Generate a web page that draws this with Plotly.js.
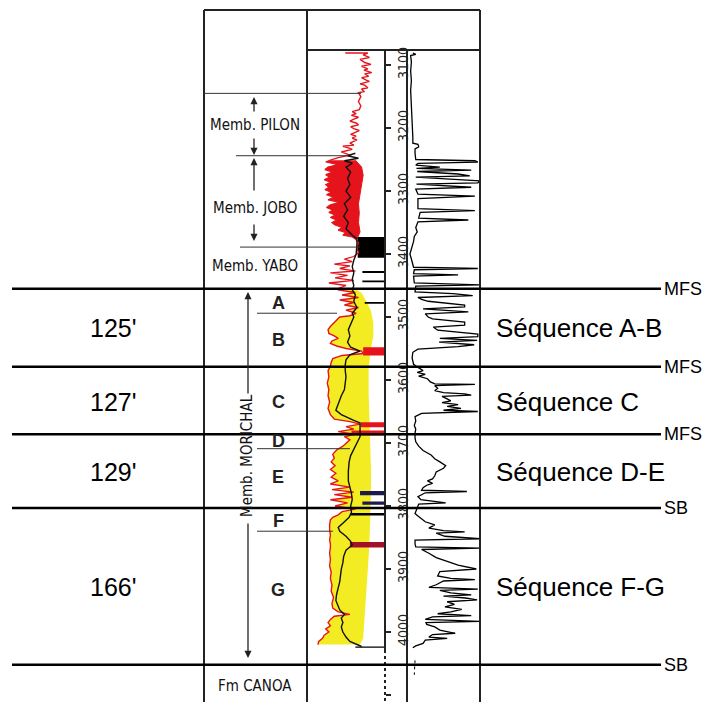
<!DOCTYPE html>
<html>
<head>
<meta charset="utf-8">
<script src="https://cdn.plot.ly/plotly-3.0.1.min.js"></script>
<style>html,body{margin:0;padding:0;background:#fff;}#chart{width:711px;height:702px;}</style>
</head>
<body>
<div id="chart"></div>
<script>
// ---------------- DATA ----------------
const depthTicks = [3100,3200,3300,3400,3500,3600,3700,3800,3900,4000,4100];
const depthTickLabels = ['3100','3200','3300','3400','3500','3600','3700','3800','3900','4000','41 00'];

// Resistivity-type curve, upper part (Memb. PILON) [depth, value]
const pilonCurve = [[3081,49],[3081,78],[3084,72],[3088,80],[3091,68],[3096,74],[3099,82],[3102,70],[3106,78],[3108,73],[3112,83],[3114,74],[3118,79],[3120,70],[3124,76],[3126,80],[3130,68],[3132,74],[3136,78],[3138,70],[3142,73],[3144,66],[3150,69],[3158,66],[3165,69],[3171,67],[3174,58],[3177,63],[3180,57],[3183,66],[3186,60],[3189,55],[3192,63],[3195,66],[3198,56],[3201,60],[3204,67],[3207,62],[3210,56],[3213,63],[3216,58],[3219,64],[3224,55],[3227,60],[3229,46],[3232,54],[3234,58],[3238,44],[3241,50],[3243,55],[3247,40],[3251,30]];

// Memb. JOBO red-shaded interval: left and right bounding curves
const joboLeft = [[3251,30],[3254,24],[3258,40],[3262,27],[3266,23],[3270,33],[3274,24],[3278,29],[3282,22],[3286,30],[3290,24],[3294,28],[3298,23],[3302,31],[3306,25],[3310,34],[3314,27],[3318,42],[3322,30],[3326,25],[3330,33],[3334,28],[3338,36],[3342,30],[3346,38],[3350,32],[3354,36],[3358,45],[3362,40],[3366,50],[3370,46],[3373,58],[3376,62]];
const joboRight = [[3251,62],[3262,70],[3275,72],[3290,70],[3305,68],[3320,66],[3335,67],[3350,66],[3365,68],[3376,64]];

// Memb. YABO
const yaboCurve = [[3376,62],[3382,66],[3390,64],[3398,66],[3404,60],[3408,48],[3412,58],[3416,35],[3419,55],[3423,42],[3427,62],[3430,30],[3434,52],[3438,36],[3442,60],[3446,28],[3450,50],[3455,40]];

// Memb. MORICHAL: red curve bounding the yellow sand shading, and the shading edge
const sandCurve = [[3455,40],[3457,40],[3461,62],[3465,45],[3469,66],[3473,42],[3477,60],[3481,48],[3485,66],[3489,50],[3494,63],[3498,55],[3500,42],[3505,38],[3510,33],[3515,30],[3520,27],[3526,28],[3530,35],[3534,40],[3538,32],[3542,30],[3546,38],[3550,50],[3554,70],[3558,72],[3561,45],[3566,33],[3572,31],[3578,30],[3585,27],[3595,28],[3605,26],[3615,28],[3625,27],[3635,29],[3645,27],[3655,30],[3662,35],[3666,55],[3670,68],[3674,50],[3678,60],[3682,40],[3686,62],[3690,48],[3695,55],[3700,50],[3705,46],[3711,38],[3718,33],[3724,35],[3730,31],[3736,36],[3742,30],[3748,37],[3754,31],[3760,40],[3765,30],[3770,55],[3774,32],[3778,60],[3782,35],[3786,58],[3790,30],[3795,52],[3800,36],[3805,62],[3809,45],[3814,40],[3818,33],[3822,30],[3830,29],[3838,29],[3846,30],[3854,29],[3860,30],[3866,30],[3875,29],[3885,30],[3895,29],[3905,31],[3915,30],[3925,32],[3935,31],[3945,34],[3955,32],[3962,33],[3968,40],[3972,55],[3975,35],[3980,30],[3985,27],[3990,30],[3995,24],[4000,28],[4005,22],[4010,20],[4015,15],[4020,14]];
const sandEdge = [[3455,62],[3462,70],[3475,76],[3490,82],[3510,85],[3530,85],[3550,82],[3580,79],[3620,79],[3660,80],[3700,81],[3740,82],[3780,82],[3820,81],[3860,80],[3900,78],[3940,76],[3980,74],[4010,72],[4020,68]];

// Black curve in the first track
const blackCurve = [[3240,62],[3244,52],[3248,66],[3252,48],[3256,58],[3262,50],[3270,56],[3280,52],[3290,55],[3300,50],[3310,56],[3320,48],[3330,52],[3340,47],[3350,53],[3360,50],[3370,58],[3376,64],[3385,64],[3400,63],[3410,60],[3420,58],[3430,60],[3440,58],[3450,60],[3457,58],[3465,62],[3475,60],[3485,64],[3494,58],[3500,60],[3510,56],[3520,53],[3530,55],[3540,52],[3548,56],[3554,68],[3560,55],[3568,50],[3576,49],[3585,49],[3595,50],[3605,49],[3615,48],[3625,44],[3632,42],[3640,40],[3648,37],[3655,44],[3660,52],[3664,60],[3668,68],[3680,68],[3690,68],[3700,64],[3711,59],[3720,56],[3730,54],[3745,53],[3760,53],[3770,55],[3780,57],[3790,58],[3800,56],[3810,57],[3818,54],[3826,47],[3834,40],[3840,42],[3848,50],[3856,56],[3862,58],[3870,50],[3880,47],[3890,46],[3900,44],[3910,43],[3920,42],[3930,40],[3940,38],[3950,37],[3958,40],[3965,42],[3972,48],[3978,44],[3985,46],[3992,44],[4000,46],[4008,50],[4015,55],[4020,64],[4023,70]];

// Beds drawn to the depth track: [top depth, base depth, start value]
const blackBeds = [[3373,3406,65],[3427,3430,71],[3442,3445,71],[3476,3479,74],[3811,3815,56],[4023,4025,62]];
const redBeds = [[3548,3561,72],[3667,3675,69],[3680,3688,57]];
const navyBeds = [[3776,3783,68],[3793,3798,71]];
const maroonBeds = [[3857,3866,55]];

// Right-hand log (gamma-ray type) [depth, value]
const grCurve = [[3081,8],[3083,12],[3085,5],[3095,6],[3110,5],[3125,6],[3140,5],[3160,6],[3180,7],[3200,7],[3215,8],[3224,8],[3226,15],[3230,16],[3233,11],[3240,11],[3250,12],[3252,93],[3254,97],[3256,15],[3259,12],[3262,45],[3264,13],[3267,88],[3269,14],[3273,70],[3276,86],[3278,12],[3284,100],[3287,97],[3289,13],[3294,88],[3297,12],[3305,15],[3308,93],[3312,15],[3322,15],[3328,15],[3331,93],[3334,18],[3343,16],[3346,84],[3349,15],[3358,12],[3365,14],[3372,10],[3380,9],[3390,6],[3400,4],[3408,6],[3416,8],[3421,9],[3423,97],[3425,10],[3431,9],[3433,70],[3435,9],[3446,10],[3449,100],[3451,12],[3460,11],[3463,63],[3466,90],[3469,15],[3472,20],[3475,29],[3481,79],[3484,79],[3487,22],[3492,84],[3495,25],[3500,29],[3503,35],[3508,79],[3513,79],[3516,36],[3521,42],[3527,97],[3531,97],[3534,45],[3537,96],[3540,44],[3544,92],[3547,70],[3551,15],[3556,8],[3565,7],[3575,9],[3580,15],[3585,22],[3588,14],[3591,25],[3594,16],[3598,28],[3603,32],[3606,38],[3607,93],[3609,38],[3613,42],[3617,38],[3620,50],[3622,79],[3624,88],[3626,48],[3630,55],[3633,60],[3636,48],[3639,70],[3642,55],[3645,74],[3648,50],[3650,97],[3653,20],[3658,11],[3665,12],[3672,10],[3678,12],[3684,11],[3692,11],[3698,12],[3705,16],[3712,22],[3719,33],[3725,38],[3730,45],[3736,53],[3740,50],[3746,40],[3752,38],[3757,35],[3760,28],[3764,35],[3767,27],[3771,22],[3775,20],[3777,82],[3779,25],[3785,15],[3790,19],[3795,53],[3797,16],[3805,13],[3812,11],[3816,15],[3820,20],[3825,25],[3830,38],[3835,30],[3839,50],[3841,79],[3843,40],[3848,52],[3852,100],[3854,11],[3860,11],[3865,12],[3867,100],[3869,20],[3875,30],[3882,40],[3888,55],[3894,70],[3900,95],[3904,45],[3911,42],[3915,60],[3917,93],[3919,50],[3925,40],[3929,30],[3932,97],[3934,45],[3938,60],[3941,88],[3943,50],[3946,80],[3949,96],[3952,55],[3956,65],[3960,52],[3964,75],[3968,60],[3971,42],[3974,88],[3976,35],[3980,25],[3983,100],[3985,26],[3988,27],[3992,38],[3997,45],[4002,66],[4004,35],[4008,30],[4010,55],[4013,25],[4018,22],[4022,12],[4025,8]];
const grTail = [[4045,11],[4068,10]];

// Formation tops (left column) and sequence surfaces
const formationTops = [3145,3244,3389,3494,3709,3840];
const surfaceDepths = [3455,3579,3686,3803,4052];
const surfaceLabels = ['MFS','MFS','MFS','SB','SB'];
const thicknessLabels = ["125'","127'","129'","166'"];
const sequenceNames = ['Séquence A-B','Séquence C','Séquence D-E','Séquence F-G'];
const sequenceLabelDepths = [3517,3635,3746,3928];
const members = ['Memb. PILON','Memb. JOBO','Memb. YABO','Memb. MORICHAL','Fm CANOA'];
const units = ['A','B','C','D','E','F','G'];

// ---------------- DRAWING ----------------
const W = 711, H = 702;
const PX = x => x / W;
const PY = y => 1 - y / H;
const ARIAL = 'Liberation Sans, Arial, sans-serif';
const NARROW = 'Liberation Sans Narrow, Arial Narrow, DejaVu Sans Condensed, sans-serif';
const RED = '#e5141c', YELLOW = '#f4ec22';

const dx = a => a.map(p => p[1]);
const dy = a => a.map(p => p[0]);

function line(curve, color, width, extra) {
  return Object.assign({type:'scatter', mode:'lines', x:dx(curve), y:dy(curve), xaxis:'x', yaxis:'y',
    line:{color:color, width:width}, hoverinfo:'skip', showlegend:false}, extra || {});
}
function beds(list, color) {
  const x = [], y = [];
  list.forEach(b => { x.push(b[2],100,100,b[2],b[2],null); y.push(b[0],b[0],b[1],b[1],b[0],null); });
  return {type:'scatter', mode:'lines', x:x, y:y, xaxis:'x', yaxis:'y', fill:'toself', fillcolor:color,
    line:{width:0, color:color}, hoverinfo:'skip', showlegend:false};
}

const traces = [
  line(joboRight, RED, 1),
  line(joboLeft, RED, 1.2, {fill:'tonextx', fillcolor:RED}),
  line(sandEdge, 'rgba(0,0,0,0)', 0),
  line(sandCurve, RED, 1.4, {fill:'tonextx', fillcolor:YELLOW}),
  beds(blackBeds, '#000'),
  beds(redBeds, RED),
  beds(navyBeds, '#1b1b4d'),
  beds(maroonBeds, '#a3102a'),
  line(pilonCurve, RED, 1.4),
  line(yaboCurve, RED, 1.3),
  line(blackCurve, '#111', 1.4),
  {type:'scatter', mode:'lines', x:dx(grCurve), y:dy(grCurve), xaxis:'x2', yaxis:'y',
    line:{color:'#000', width:1.3}, hoverinfo:'skip', showlegend:false},
  {type:'scatter', mode:'lines', x:dx(grTail), y:dy(grTail), xaxis:'x2', yaxis:'y',
    line:{color:'#000', width:1, dash:'dot'}, hoverinfo:'skip', showlegend:false}
];

const shapes = [];
function pline(x0,y0,x1,y1,w,dash){ shapes.push({type:'line', xref:'paper', yref:'paper', x0:PX(x0), y0:PY(y0), x1:PX(x1), y1:PY(y1), line:{color:'#222', width:w, dash:dash||'solid'}}); }
pline(204,10,480,10,2);
pline(204,10,204,702,2);
pline(307,10,307,702,2);
pline(480,10,480,702,2);
pline(307,50,480,50,2);
pline(385,50,385,650,2);
pline(385,650,385,702,2,'dot');
pline(407,50,407,702,2);

const topX = [[204,361],[236,348],[240,360],[257,337],[257,350],[257,333]];
formationTops.forEach((d,i) => shapes.push({type:'line', xref:'paper', yref:'y', x0:PX(topX[i][0]), x1:PX(topX[i][1]), y0:d, y1:d, line:{color:'#333', width:1}}));
surfaceDepths.forEach(d => shapes.push({type:'line', xref:'paper', yref:'y', x0:PX(12), x1:PX(661), y0:d, y1:d, line:{color:'#000', width:2.5}}));

const ann = [];
surfaceDepths.forEach((d,i) => ann.push({xref:'paper', yref:'y', x:PX(662), y:d, xanchor:'left', yanchor:'middle', text:surfaceLabels[i], showarrow:false, font:{family:ARIAL, size:18, color:'#000'}}));
thicknessLabels.forEach((t,i) => ann.push({xref:'paper', yref:'y', x:PX(113), y:sequenceLabelDepths[i], xanchor:'center', yanchor:'middle', text:t, showarrow:false, font:{family:ARIAL, size:25, color:'#000'}}));
sequenceNames.forEach((t,i) => ann.push({xref:'paper', yref:'y', x:PX(494), y:sequenceLabelDepths[i], xanchor:'left', yanchor:'middle', text:t, showarrow:false, font:{family:ARIAL, size:26, color:'#000'}}));

const memberPos = [[255,125,0],[255,208,0],[255,266,0],[247,456,-90],[255,686,0]];
members.forEach((t,i) => ann.push({xref:'paper', yref:'paper', x:PX(memberPos[i][0]), y:PY(memberPos[i][1]), xanchor:'center', yanchor:'middle', textangle:memberPos[i][2], text:t, showarrow:false, font:{family:NARROW, size:15, color:'#111'}}));
const unitY = [303,340,402,441,477,521,590];
units.forEach((t,i) => ann.push({xref:'paper', yref:'paper', x:PX(278), y:PY(unitY[i]), xanchor:'center', yanchor:'middle', text:'<b>'+t+'</b>', showarrow:false, font:{family:ARIAL, size:18, color:'#222'}}));

function arrow(x, yHead, yTail){ ann.push({xref:'paper', yref:'paper', x:PX(x), y:PY(yHead), ax:0, ay:yTail-yHead, axref:'pixel', ayref:'pixel', text:'', showarrow:true, arrowhead:2, arrowsize:1.1, arrowwidth:1.3, arrowcolor:'#222'}); }
arrow(254,97,113); arrow(254,155,137);
arrow(254,158,192); arrow(254,241,223);
arrow(248,292,395); arrow(248,658,522);

const layout = {
  width:W, height:H, margin:{l:0,r:0,t:0,b:0,pad:0},
  paper_bgcolor:'#fff', plot_bgcolor:'rgba(0,0,0,0)', showlegend:false,
  xaxis:{domain:[PX(307),PX(385)], range:[0,100], visible:false, fixedrange:true, anchor:'y'},
  xaxis2:{domain:[PX(407),PX(480)], range:[0,100], visible:false, fixedrange:true, anchor:'y'},
  yaxis:{domain:[0,1], range:[4111.1,2996.8], anchor:'free', position:PX(385), side:'right',
    showgrid:false, zeroline:false, showline:false, ticks:'outside', ticklen:5, tickwidth:1.5, tickcolor:'#222',
    tickmode:'array', tickvals:depthTicks, ticktext:depthTickLabels, tickangle:-90,
    tickfont:{family:NARROW, size:14, color:'#222'}, fixedrange:true, automargin:false},
  shapes:shapes, annotations:ann
};
Plotly.newPlot('chart', traces, layout, {displayModeBar:false, staticPlot:true});
</script>
</body>
</html>
